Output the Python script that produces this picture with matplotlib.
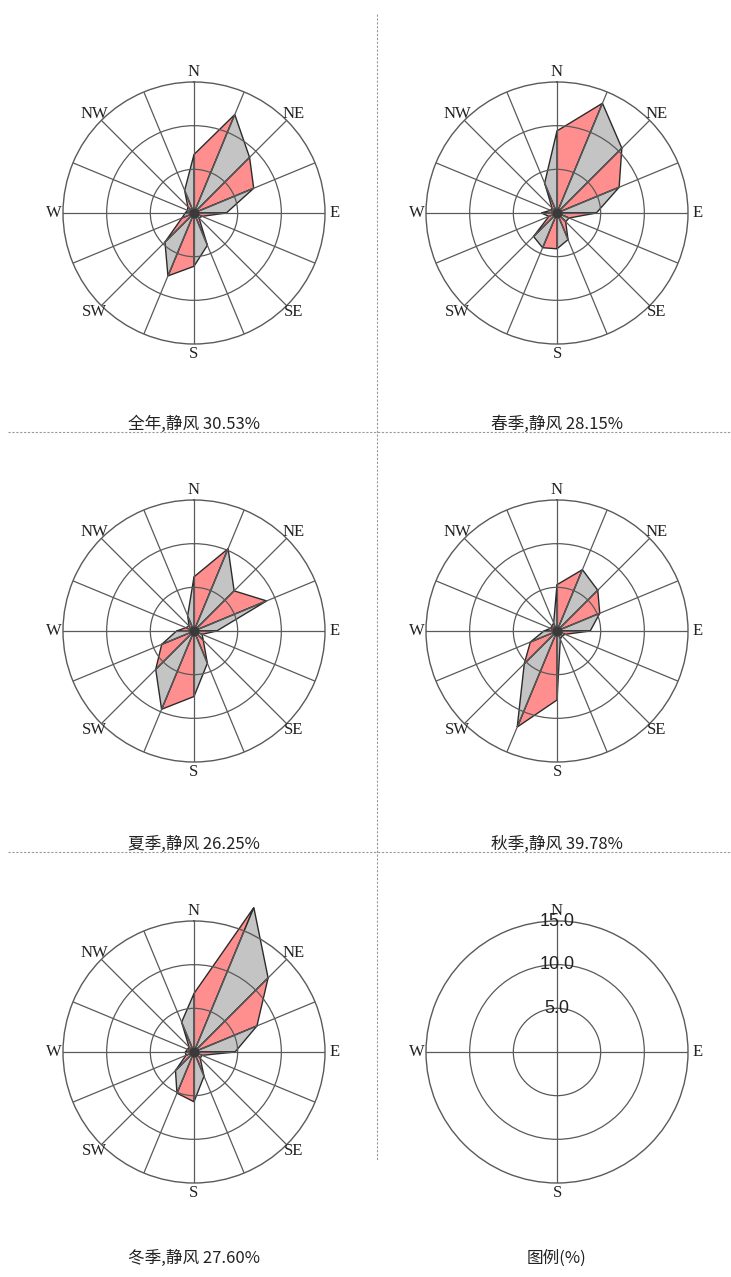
import numpy as np
import matplotlib
matplotlib.use("Agg")
import matplotlib.pyplot as plt
from matplotlib.lines import Line2D

plt.rcParams["font.family"] = ["Noto Sans CJK SC", "DejaVu Sans"]

# 16 compass directions, clockwise from N
directions = ["N", "NNE", "NE", "ENE", "E", "ESE", "SE", "SSE",
              "S", "SSW", "SW", "WSW", "W", "WNW", "NW", "NNW"]

# wind frequency (%) per direction
annual = [6.7, 12.2, 9.0, 7.4, 3.7, 1.0, 0.8, 4.0, 6.1, 7.8, 4.7, 1.5, 1.0, 0.8, 1.0, 2.8]
spring = [9.4, 13.6, 10.5, 7.7, 4.5, 1.5, 1.4, 3.3, 4.1, 4.3, 3.8, 1.0, 1.8, 0.8, 0.8, 3.7]
summer = [6.2, 10.2, 6.5, 9.0, 2.6, 1.0, 1.5, 4.0, 7.5, 9.7, 6.2, 4.0, 2.0, 1.0, 0.8, 1.9]
autumn = [5.3, 7.6, 6.6, 5.3, 3.8, 1.0, 0.8, 1.0, 7.9, 11.9, 5.3, 3.3, 1.5, 0.8, 0.8, 1.0]
winter = [6.7, 17.9, 12.0, 7.8, 4.7, 1.0, 1.0, 3.0, 5.7, 5.1, 3.0, 1.0, 1.0, 0.8, 0.8, 3.7]

titles = ["全年,静风 30.53%", "春季,静风 28.15%", "夏季,静风 26.25%",
          "秋季,静风 39.78%", "冬季,静风 27.60%"]
legend_title = "图例(%)"
legend_rings = [5.0, 10.0, 15.0]

W, H = 731, 1277
R = 131  # rose radius in px
centers = [(194, 213), (557, 213), (194, 631), (557, 631), (194, 1052)]
legend_center = (557, 1052)
title_y = [424, 424, 844, 844, 1258]

pink = "#ff8f8f"
grey = "#c4c4c4"
edge = "#2b2b2b"
gridc = "#5a5a5a"
serif = ["Liberation Serif", "DejaVu Serif"]

fig = plt.figure(figsize=(W / 100, H / 100), dpi=100)


def make_axes(cx, cy):
    ax = fig.add_axes([(cx - R) / W, 1 - (cy + R) / H, 2 * R / W, 2 * R / H],
                      projection="polar")
    ax.set_theta_zero_location("N")
    ax.set_theta_direction(-1)
    ax.set_ylim(0, 15)
    ax.spines["polar"].set_color(gridc)
    ax.spines["polar"].set_linewidth(1.0)
    ax.grid(True, color=gridc, lw=0.9)
    ax.set_facecolor("none")
    return ax


def rose(ax, vals):
    theta = np.deg2rad(np.arange(16) * 22.5)
    ax.set_rgrids([5, 10], labels=[])
    ax.set_thetagrids(np.arange(16) * 22.5, labels=[])
    for i in range(16):
        j = (i + 1) % 16
        t2 = theta[j] if j else 2 * np.pi
        ax.fill([0, theta[i], t2], [0, vals[i], vals[j]],
                facecolor=pink if i % 2 == 0 else grey,
                edgecolor=edge, lw=1.0, clip_on=False, zorder=1)
    ax.plot([0], [0], "o", ms=6, color="#3a3a3a", zorder=3)
    for k in range(0, 16, 2):
        ax.text(np.deg2rad(k * 22.5), 16.1, directions[k], ha="center",
                va="center", fontsize=12, family=serif, color="#222")


for vals, (cx, cy) in zip([annual, spring, summer, autumn, winter], centers):
    ax = make_axes(cx, cy)
    rose(ax, vals)

# legend panel
ax = make_axes(*legend_center)
ax.set_rgrids([5, 10], labels=[])
ax.set_thetagrids([0, 90, 180, 270], labels=[])
for k in range(0, 16, 4):
    ax.text(np.deg2rad(k * 22.5), 16.1, directions[k], ha="center",
            va="center", fontsize=12, family=serif, color="#222")
for r in legend_rings:
    ax.text(0, r, "%.1f" % r, ha="center", va="center", fontsize=13,
            family=["Liberation Sans", "DejaVu Sans"], color="#222", zorder=4)

for (cx, _), ty, t in zip(centers, title_y, titles):
    fig.text(cx / W, 1 - ty / H, t, ha="center", va="center", fontsize=12,
             color="#222")
fig.text(legend_center[0] / W, 1 - title_y[-1] / H, legend_title,
         ha="center", va="center", fontsize=12, color="#222")

# dashed separators
for yy in [432, 852]:
    fig.add_artist(Line2D([8 / W, 1], [1 - yy / H] * 2, color="#9a9a9a",
                          lw=0.8, ls=(0, (2, 1.5))))
fig.add_artist(Line2D([377 / W] * 2, [1 - 14 / H, 1 - 1160 / H],
                      color="#9a9a9a", lw=0.8, ls=(0, (2, 1.5))))

fig.savefig("out.png", dpi=100, facecolor="white")
